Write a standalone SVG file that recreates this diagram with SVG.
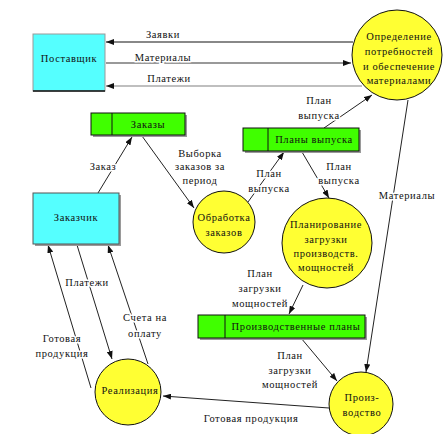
<svg xmlns="http://www.w3.org/2000/svg" width="444" height="434" viewBox="0 0 444 434">
<defs>
<style>
text{font-family:"Liberation Serif","Times New Roman",serif;font-size:10.5px;letter-spacing:0.6px;fill:#111;text-anchor:middle}
.lbl{stroke:#fff;stroke-width:3px;paint-order:stroke;stroke-linejoin:round}
.ext{fill:#55ffff;stroke:#555;stroke-width:1}
.store{fill:#40ff00;stroke:#111;stroke-width:1}
.shadow{fill:#9a9a9a}
.proc{fill:#ffff33;stroke:#111;stroke-width:1}
.flow{fill:none;stroke:#222;stroke-width:1;marker-end:url(#ah)}
</style>
<marker id="ah" viewBox="0 0 8 6" refX="8" refY="3" markerWidth="8" markerHeight="6" markerUnits="userSpaceOnUse" orient="auto">
<path d="M0,0 L8,3 L0,6 z" fill="#111"/>
</marker>
</defs>
<rect width="444" height="434" fill="#fff"/>

<g id="connectors">
<line x1="353" y1="42" x2="106" y2="42" class="flow" style="stroke:#888;stroke-width:2"/>
<line x1="106" y1="63" x2="351" y2="63" class="flow" style="stroke:#777;stroke-width:1.5"/>
<line x1="362" y1="86" x2="106" y2="86" class="flow" style="stroke:#aaa;stroke-width:1.5"/>
<line x1="324" y1="128" x2="372" y2="95" class="flow"/>
<line x1="408" y1="100" x2="366" y2="372" class="flow"/>
<line x1="98" y1="193" x2="132" y2="137" class="flow"/>
<line x1="142" y1="136" x2="194" y2="208" class="flow"/>
<line x1="248" y1="202" x2="284" y2="152" class="flow"/>
<line x1="302" y1="152" x2="329" y2="198" class="flow"/>
<line x1="303" y1="285" x2="289" y2="314" class="flow"/>
<line x1="301" y1="338" x2="337" y2="381" class="flow"/>
<line x1="329" y1="408" x2="163" y2="396" class="flow"/>
<line x1="91" y1="388" x2="48" y2="245" class="flow"/>
<line x1="77" y1="245" x2="112" y2="359" class="flow"/>
<line x1="148" y1="364" x2="108" y2="245" class="flow"/>
</g>

<g id="labels">
<text x="163" y="38" class="lbl">Заявки</text>
<text x="163" y="61" class="lbl">Материалы</text>
<text x="169" y="82" class="lbl">Платежи</text>
<text x="319" y="104" class="lbl">План</text>
<text x="319" y="119" class="lbl">выпуска</text>
<text x="407" y="199" class="lbl">Материалы</text>
<text x="103" y="170" class="lbl">Заказ</text>
<text x="200" y="157" class="lbl">Выборка</text>
<text x="200" y="170" class="lbl">заказов за</text>
<text x="200" y="184" class="lbl">период</text>
<text x="269" y="177" class="lbl">План</text>
<text x="269" y="192" class="lbl">выпуска</text>
<text x="339" y="170" class="lbl">План</text>
<text x="339" y="184" class="lbl">выпуска</text>
<text x="260" y="277" class="lbl">План</text>
<text x="260" y="292" class="lbl">загрузки</text>
<text x="260" y="307" class="lbl">мощностей</text>
<text x="290" y="359" class="lbl">План</text>
<text x="290" y="374" class="lbl">загрузки</text>
<text x="290" y="388" class="lbl">мощностей</text>
<text x="251" y="422" class="lbl">Готовая продукция</text>
<text x="62" y="342" class="lbl">Готовая</text>
<text x="62" y="357" class="lbl">продукция</text>
<text x="87" y="286" class="lbl">Платежи</text>
<text x="145" y="321" class="lbl">Счета на</text>
<text x="145" y="337" class="lbl">оплату</text>
</g>

<g id="supplier">
<rect x="33" y="34" width="72" height="57" class="ext" style="stroke:#999"/>
<line x1="33" y1="91" x2="105" y2="91" stroke="#111" stroke-width="1.5"/>
<text x="69" y="62">Поставщик</text>
</g>

<g id="customer">
<rect x="35" y="195" width="86" height="51" class="shadow"/>
<rect x="33" y="193" width="86" height="51" class="ext"/>
<text x="76" y="221">Заказчик</text>
</g>

<g id="orders">
<rect x="93" y="115" width="94" height="22" class="shadow"/>
<rect x="91" y="113" width="94" height="22" class="store"/>
<line x1="112" y1="113" x2="112" y2="135" stroke="#111"/>
<text x="148" y="128">Заказы</text>
</g>

<g id="release-plans">
<rect x="245" y="130" width="116" height="23" class="shadow"/>
<rect x="243" y="128" width="116" height="23" class="store"/>
<line x1="268" y1="128" x2="268" y2="151" stroke="#111"/>
<text x="314" y="143">Планы выпуска</text>
</g>

<g id="production-plans">
<rect x="200" y="317" width="167" height="23" class="shadow"/>
<rect x="198" y="315" width="167" height="23" class="store"/>
<line x1="225" y1="315" x2="225" y2="338" stroke="#111"/>
<text x="296" y="330">Производственные планы</text>
</g>

<g id="materials">
<circle cx="397" cy="55" r="45" class="proc"/>
<text x="399" y="40">Определение</text>
<text x="399" y="55">потребностей</text>
<text x="399" y="70">и обеспечение</text>
<text x="399" y="84">материалами</text>
</g>

<g id="order-processing">
<circle cx="224" cy="222" r="31" class="proc"/>
<text x="224" y="221">Обработка</text>
<text x="224" y="236">заказов</text>
</g>

<g id="capacity-planning">
<circle cx="327" cy="243" r="45" class="proc"/>
<text x="326" y="228">Планирование</text>
<text x="326" y="243">загрузки</text>
<text x="326" y="257">производств.</text>
<text x="326" y="271">мощностей</text>
</g>

<g id="production">
<circle cx="361" cy="404" r="32" class="proc"/>
<text x="362" y="401">Произ-</text>
<text x="362" y="416">водство</text>
</g>

<g id="sales">
<circle cx="128" cy="392" r="33" class="proc"/>
<text x="130" y="394">Реализация</text>
</g>
</svg>
